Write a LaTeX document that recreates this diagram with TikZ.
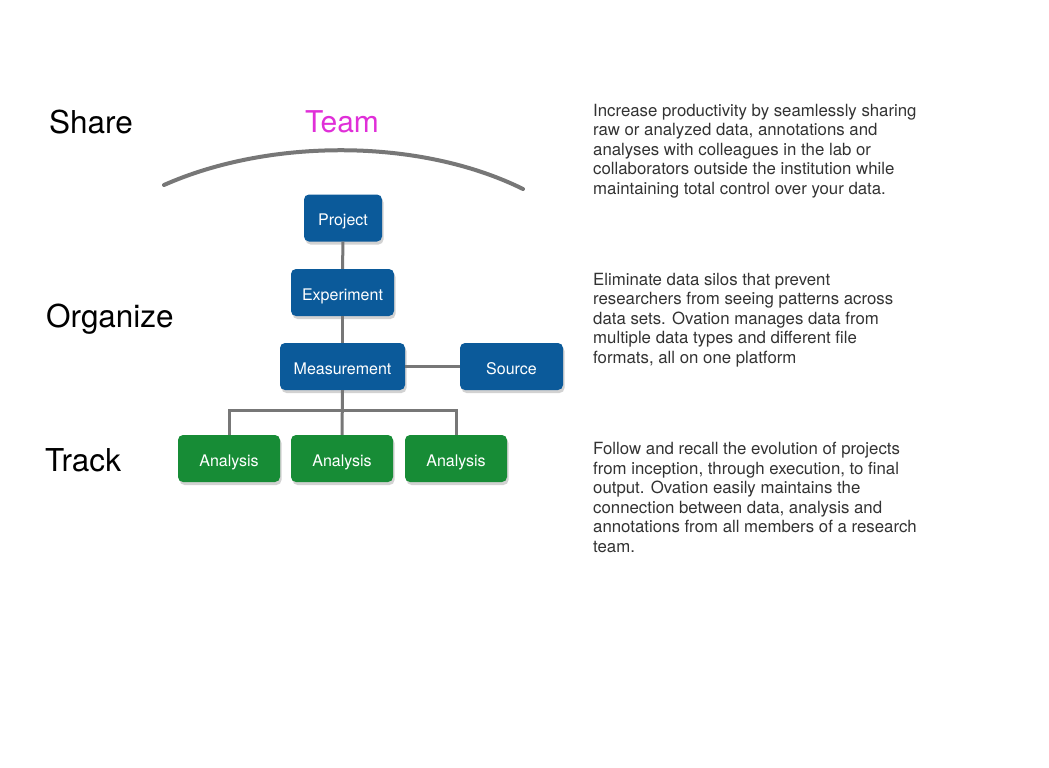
\documentclass[tikz,border=0pt]{standalone}
\usepackage{fontspec}
\setmainfont{TeX Gyre Heros}
\usetikzlibrary{shadows}
\definecolor{boxblue}{HTML}{0B5A9A}
\definecolor{boxgreen}{HTML}{178C36}
\definecolor{linegray}{HTML}{777777}
\definecolor{teammag}{HTML}{E02FD8}
\definecolor{txtgray}{HTML}{333333}
\tikzset{
  box/.style={draw=none, rounded corners=5pt, minimum height=47pt, inner sep=0pt,
    text height=15pt, text depth=0pt,
    text=white, font=\fontsize{16}{18}\selectfont,
    drop shadow={opacity=0.35, shadow xshift=1.5pt, shadow yshift=-3pt}},
  bluebox/.style={box, fill=boxblue},
  greenbox/.style={box, fill=boxgreen},
  conn/.style={draw=linegray, line width=3pt},
  title/.style={anchor=west, inner sep=0pt, font=\fontsize{31.5}{36}\selectfont, text=black},
  para/.style={anchor=north west, inner sep=0pt, align=left, text=txtgray,
    font=\fontsize{16.8}{19.5}\selectfont}
}
\begin{document}
\begin{tikzpicture}[x=1pt,y=-1pt]
\useasboundingbox[fill=white] (0,0) rectangle (1049,768);
% titles
\node[title] (share) at (49,122) {Share};
\node[title] (organize) at (46,319) {Organize};
\node[title] (track) at (45,460) {Track};
\node[title, anchor=center, text=teammag, font=\fontsize{30}{36}\selectfont] (team) at (342,122) {Team};
% arc
\coordinate (arcL) at (164,185);
\coordinate (arcR) at (523,189);
\draw[draw=linegray, line width=4pt, line cap=round] (arcL) .. controls (270,138) and (420,138) .. (arcR);
% boxes
\node[bluebox, minimum width=78pt] (project) at (343,218) {Project};
\node[bluebox, minimum width=103pt] (experiment) at (342.5,292.5) {Experiment};
\node[bluebox, minimum width=125pt] (measurement) at (342.5,366.5) {Measurement};
\node[bluebox, minimum width=103pt] (source) at (511.5,366.5) {Source};
\node[greenbox, minimum width=102pt] (a1) at (229,458.5) {Analysis};
\node[greenbox, minimum width=102pt] (a2) at (342,458.5) {Analysis};
\node[greenbox, minimum width=102pt] (a3) at (456,458.5) {Analysis};
% connectors
\coordinate (bus) at (342.5,410);
\draw[conn] (project.south) -- (experiment.north);
\draw[conn] (experiment.south) -- (measurement.north);
\draw[conn] (measurement.east) -- (source.west);
\draw[conn] (measurement.south) -- (a2.north);
\draw[conn] (a1.north) -- (a1.north |- bus) -- (a3.north |- bus) -- (a3.north);
% paragraphs
\node[para] (p1) at (593,104) {Increase productivity by seamlessly sharing\\raw or analyzed data, annotations and\\analyses with colleagues in the lab or\\collaborators outside the institution while\\maintaining total control over your data.};
\node[para] (p2) at (593,273) {Eliminate data silos that prevent\\researchers from seeing patterns across\\data sets. Ovation manages data from\\multiple data types and different file\\formats, all on one platform};
\node[para] (p3) at (593,442) {Follow and recall the evolution of projects\\from inception, through execution, to final\\output. Ovation easily maintains the\\connection between data, analysis and\\annotations from all members of a research\\team.};
\end{tikzpicture}
\end{document}
